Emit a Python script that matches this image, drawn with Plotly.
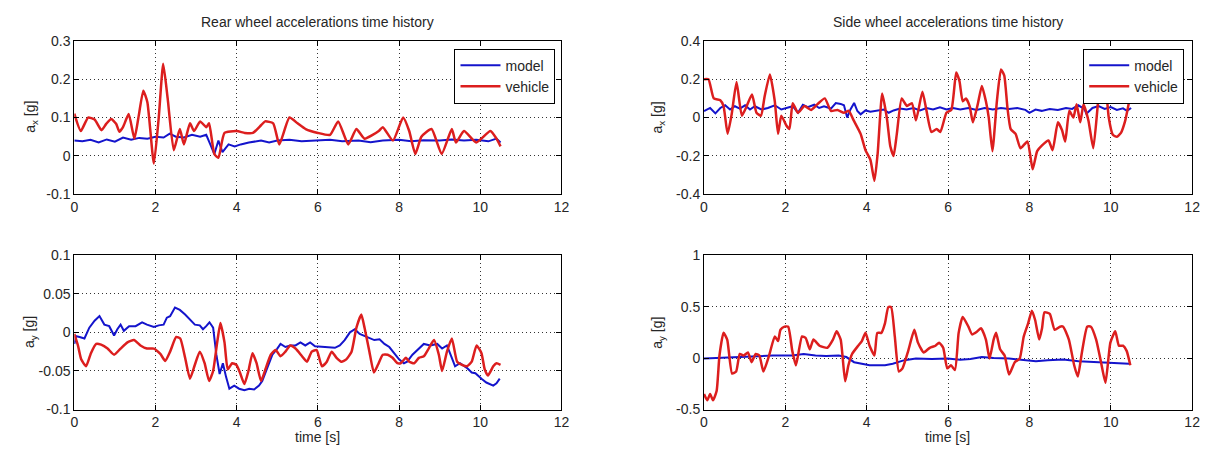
import plotly.graph_objects as go

# ---------------- data ----------------
# Rear wheel, longitudinal acceleration a_x [g]
rear_ax_model_t = [0, 0.2, 0.4, 0.6, 0.8, 1.0, 1.2, 1.4, 1.6, 1.8, 2.0, 2.2, 2.35, 2.5, 2.7,
                   2.9, 3.1, 3.25, 3.35, 3.45, 3.55, 3.65, 3.8, 3.95, 4.1, 4.3, 4.6, 4.8, 5.0,
                   5.3, 5.6, 6.0, 6.3, 6.6, 7.0, 7.3, 7.6, 8.0, 8.3, 8.6, 9.0, 9.3, 9.6, 9.9,
                   10.2, 10.4, 10.5]
rear_ax_model = [0.04, 0.038, 0.042, 0.035, 0.043, 0.037, 0.048, 0.042, 0.047, 0.045, 0.05,
                 0.048, 0.058, 0.05, 0.048, 0.055, 0.05, 0.055, 0.03, 0.005, 0.04, 0.01, 0.03,
                 0.025, 0.03, 0.035, 0.04, 0.035, 0.04, 0.042, 0.038, 0.04, 0.042, 0.038, 0.04,
                 0.036, 0.04, 0.042, 0.038, 0.041, 0.04, 0.043, 0.04, 0.042, 0.038, 0.045, 0.035]
rear_ax_vehicle_t = [0, 0.16, 0.34, 0.5, 0.67, 0.79, 0.91, 1.03, 1.11, 1.2, 1.34, 1.48, 1.58,
                     1.7, 1.8, 1.96, 2.08, 2.19, 2.3, 2.45, 2.6, 2.7, 2.85, 2.95, 3.1, 3.25,
                     3.32, 3.45, 3.55, 3.7, 4.0, 4.2, 4.4, 4.6, 4.7, 4.9, 5.05, 5.3, 5.5, 5.7,
                     6.0, 6.3, 6.5, 6.75, 6.95, 7.15, 7.5, 7.6, 7.85, 8.1, 8.25, 8.4, 8.55, 8.8,
                     9.05, 9.3, 9.4, 9.6, 9.9, 10.25, 10.4, 10.5]
rear_ax_vehicle = [0.11, 0.065, 0.1, 0.095, 0.067, 0.084, 0.096, 0.084, 0.063, 0.075, 0.109,
                   0.045, 0.1, 0.17, 0.14, -0.02, 0.1, 0.24, 0.15, 0.015, 0.07, 0.03, 0.085,
                   0.065, 0.09, 0.075, 0.085, 0.005, -0.005, 0.06, 0.065, 0.06, 0.06, 0.08,
                   0.09, 0.085, 0.03, 0.1, 0.085, 0.07, 0.06, 0.055, 0.09, 0.03, 0.07, 0.045,
                   0.065, 0.075, 0.04, 0.1, 0.065, 0.005, 0.05, 0.07, 0.005, 0.07, 0.035, 0.065,
                   0.035, 0.065, 0.045, 0.025]

# Side wheel, longitudinal acceleration a_x [g]
side_ax_model_t = [0, 0.15, 0.28, 0.4, 0.52, 0.64, 0.76, 0.88, 1.01, 1.13, 1.25, 1.41, 1.57,
                   1.74, 1.9, 2.06, 2.18, 2.31, 2.43, 2.55, 2.71, 2.83, 2.95, 3.12, 3.24, 3.36,
                   3.44, 3.52, 3.6, 3.69, 3.77, 3.85, 3.97, 4.09, 4.25, 4.42, 4.54, 4.66, 4.82,
                   4.98, 5.15, 5.31, 5.47, 5.63, 5.8, 5.96, 6.12, 6.3, 6.5, 6.7, 6.9, 7.1, 7.3,
                   7.5, 7.7, 7.9, 8.0, 8.15, 8.3, 8.5, 8.7, 8.9, 9.05, 9.2, 9.35, 9.4, 9.55,
                   9.7, 9.85, 10.0, 10.15, 10.3, 10.4, 10.5]
side_ax_model = [0.034, 0.05, 0.022, 0.05, 0.064, 0.042, 0.059, 0.047, 0.064, 0.042, 0.059,
                 0.042, 0.05, 0.064, 0.042, 0.05, 0.059, 0.025, 0.067, 0.054, 0.067, 0.05,
                 0.059, 0.047, 0.076, 0.071, 0.064, 0.0, 0.042, 0.076, 0.034, 0.017, 0.037,
                 0.03, 0.037, 0.042, 0.025, 0.037, 0.047, 0.042, 0.05, 0.037, 0.05, 0.042,
                 0.054, 0.042, 0.05, 0.042, 0.05, 0.04, 0.05, 0.042, 0.05, 0.045, 0.05, 0.04,
                 0.025, 0.042, 0.035, 0.045, 0.04, 0.05, 0.045, 0.064, 0.045, 0.02, 0.05, 0.06,
                 0.045, 0.055, 0.04, 0.048, 0.035, 0.05]
side_ax_vehicle_t = [0, 0.11, 0.24, 0.4, 0.48, 0.58, 0.68, 0.8, 0.93, 1.05, 1.18, 1.29, 1.4,
                     1.49, 1.62, 1.74, 1.82, 1.9, 2.02, 2.1, 2.18, 2.31, 2.47, 2.63, 2.79, 2.97,
                     3.12, 3.28, 3.44, 3.56, 3.68, 3.85, 3.97, 4.09, 4.19, 4.27, 4.38, 4.5,
                     4.58, 4.66, 4.74, 4.86, 4.99, 5.11, 5.21, 5.37, 5.47, 5.59, 5.72, 5.81,
                     5.96, 6.08, 6.2, 6.28, 6.36, 6.44, 6.53, 6.61, 6.73, 6.83, 6.93, 7.0, 7.09,
                     7.2, 7.3, 7.38, 7.46, 7.54, 7.66, 7.78, 7.95, 8.08, 8.19, 8.31, 8.47, 8.57,
                     8.7, 8.8, 8.88, 8.98, 9.08, 9.16, 9.25, 9.33, 9.45, 9.57, 9.69, 9.78, 9.88,
                     9.95, 10.05, 10.15, 10.25, 10.35, 10.42, 10.5]
side_ax_vehicle = [0.2, 0.2, 0.1, 0.09, 0.06, -0.085, 0.017, 0.185, 0.01, 0.06, 0.12, 0.025,
                   0.01, 0.11, 0.225, 0.085, -0.085, 0.01, -0.04, -0.06, 0.075, 0.025, 0.06,
                   0.04, 0.07, 0.1, 0.035, 0.04, 0.025, 0.035, -0.015, -0.085, -0.17, -0.22,
                   -0.33, -0.185, 0.125, -0.01, -0.15, -0.2, -0.085, 0.1, 0.06, 0.075, -0.015,
                   0.135, 0.035, -0.075, -0.06, -0.075, 0.025, 0.04, 0.235, 0.19, 0.085, 0.1,
                   0.06, -0.025, 0.07, 0.165, 0.085, 0.0, -0.175, 0.085, 0.25, 0.22, 0.05,
                   -0.06, -0.085, -0.16, -0.125, -0.27, -0.175, -0.145, -0.12, -0.17, -0.025,
                   -0.065, -0.125, 0.035, 0.0, 0.07, -0.025, 0.07, -0.015, -0.16, 0.085, 0.22,
                   0.15, 0.0, -0.09, -0.1, -0.08, -0.02, 0.05, 0.14]

# Rear wheel, lateral acceleration a_y [g]
rear_ay_model_t = [0, 0.05, 0.13, 0.25, 0.37, 0.5, 0.62, 0.74, 0.86, 0.98, 1.06, 1.14, 1.22,
                   1.35, 1.51, 1.67, 1.79, 1.96, 2.08, 2.2, 2.28, 2.36, 2.48, 2.6, 2.73, 2.85,
                   2.97, 3.09, 3.17, 3.25, 3.33, 3.42, 3.5, 3.58, 3.66, 3.74, 3.82, 3.94, 4.06,
                   4.19, 4.31, 4.43, 4.55, 4.63, 4.76, 4.88, 5.0, 5.08, 5.2, 5.32, 5.45, 5.57,
                   5.69, 5.81, 5.93, 6.1, 6.26, 6.42, 6.54, 6.66, 6.79, 6.91, 7.03, 7.15, 7.27,
                   7.39, 7.52, 7.64, 7.76, 7.88, 8.0, 8.12, 8.2, 8.33, 8.45, 8.61, 8.77, 8.94,
                   9.06, 9.18, 9.3, 9.38, 9.5, 9.67, 9.79, 9.88, 10.03, 10.15, 10.32, 10.4, 10.48]
rear_ay_model = [-0.015, -0.005, -0.006, -0.008, 0.006, 0.015, 0.021, 0.01, 0.008, -0.004,
                 0.004, 0.01, 0.002, 0.008, 0.008, 0.013, 0.01, 0.007, 0.009, 0.01, 0.019,
                 0.021, 0.032, 0.029, 0.023, 0.017, 0.01, 0.009, 0.004, 0.008, 0.013, 0.006,
                 -0.029, -0.054, -0.04, -0.058, -0.073, -0.069, -0.073, -0.075, -0.073, -0.074,
                 -0.069, -0.063, -0.046, -0.029, -0.021, -0.015, -0.019, -0.017, -0.017,
                 -0.013, -0.017, -0.013, -0.018, -0.019, -0.019, -0.02, -0.017, -0.01, 0.0,
                 0.004, -0.002, -0.005, -0.008, -0.01, -0.009, -0.015, -0.019, -0.027, -0.035,
                 -0.04, -0.038, -0.029, -0.023, -0.015, -0.017, -0.015, -0.021, -0.017, -0.033,
                 -0.044, -0.04, -0.046, -0.052, -0.053, -0.06, -0.065, -0.069, -0.066, -0.06]
rear_ay_vehicle_t = [0, 0.09, 0.17, 0.29, 0.41, 0.54, 0.66, 0.82, 0.98, 1.14, 1.31, 1.47, 1.63,
                     1.79, 1.96, 2.12, 2.24, 2.36, 2.51, 2.61, 2.73, 2.85, 2.97, 3.09, 3.21,
                     3.32, 3.42, 3.52, 3.6, 3.7, 3.78, 3.89, 3.99, 4.08, 4.19, 4.29, 4.39, 4.49,
                     4.6, 4.72, 4.84, 4.96, 5.08, 5.2, 5.32, 5.45, 5.61, 5.73, 5.85, 5.97, 6.1,
                     6.22, 6.34, 6.46, 6.58, 6.7, 6.83, 6.95, 7.07, 7.15, 7.27, 7.38, 7.48, 7.6,
                     7.72, 7.84, 7.96, 8.04, 8.17, 8.25, 8.37, 8.49, 8.61, 8.73, 8.86, 8.98,
                     9.06, 9.18, 9.3, 9.43, 9.55, 9.67, 9.79, 9.91, 10.03, 10.11, 10.19, 10.32,
                     10.4, 10.5]
rear_ay_vehicle = [-0.002, -0.017, -0.035, -0.044, -0.027, -0.015, -0.016, -0.021, -0.029,
                   -0.021, -0.013, -0.01, -0.017, -0.021, -0.021, -0.028, -0.037, -0.025,
                   -0.006, -0.008, -0.033, -0.06, -0.042, -0.025, -0.04, -0.063, -0.05, -0.013,
                   0.012, -0.013, -0.048, -0.04, -0.042, -0.052, -0.067, -0.05, -0.027, -0.04,
                   -0.063, -0.046, -0.029, -0.023, -0.031, -0.025, -0.017, -0.021, -0.031,
                   -0.038, -0.025, -0.023, -0.044, -0.038, -0.025, -0.033, -0.038, -0.035,
                   -0.025, 0.006, 0.023, 0.006, -0.025, -0.052, -0.042, -0.029, -0.029, -0.033,
                   -0.04, -0.04, -0.033, -0.038, -0.04, -0.033, -0.031, -0.021, -0.01, -0.029,
                   -0.05, -0.025, -0.008, -0.038, -0.042, -0.044, -0.038, -0.017, -0.027,
                   -0.048, -0.056, -0.044, -0.04, -0.042]

# Side wheel, lateral acceleration a_y [g]
side_ay_model_t = [0, 0.27, 0.55, 0.9, 1.22, 1.69, 2.17, 2.45, 2.74, 3.0, 3.31, 3.5, 3.69, 3.88,
                   4.07, 4.45, 4.64, 4.93, 5.21, 5.6, 5.98, 6.3, 6.55, 6.83, 7.12, 7.5, 7.88,
                   8.16, 8.45, 8.83, 9.21, 9.59, 9.97, 10.2, 10.45]
side_ay_model = [-0.005, 0.0, 0.01, 0.015, 0.02, 0.025, 0.025, 0.04, 0.025, 0.02, 0.025, 0.01,
                 -0.04, -0.055, -0.07, -0.07, -0.055, -0.02, -0.005, -0.01, -0.005, -0.015,
                 -0.01, 0.01, 0.0, -0.005, -0.02, -0.03, -0.02, -0.015, -0.03, -0.04, -0.045,
                 -0.05, -0.055]
side_ay_vehicle_t = [0, 0.08, 0.15, 0.22, 0.31, 0.38, 0.48, 0.57, 0.69, 0.79, 0.88, 0.98, 1.08,
                     1.17, 1.27, 1.36, 1.46, 1.6, 1.74, 1.82, 1.88, 1.98, 2.07, 2.17, 2.26,
                     2.41, 2.5, 2.6, 2.69, 2.84, 3.03, 3.17, 3.26, 3.36, 3.47, 3.55, 3.64, 3.79,
                     3.88, 3.97, 4.07, 4.19, 4.26, 4.36, 4.45, 4.53, 4.6, 4.69, 4.79, 4.88, 5.02,
                     5.17, 5.26, 5.4, 5.55, 5.69, 5.78, 5.88, 5.98, 6.07, 6.17, 6.26, 6.36, 6.5,
                     6.59, 6.72, 6.81, 6.93, 7.02, 7.12, 7.18, 7.28, 7.39, 7.5, 7.64, 7.76, 7.86,
                     7.97, 8.06, 8.14, 8.24, 8.31, 8.37, 8.5, 8.62, 8.75, 8.83, 8.97, 9.1, 9.19,
                     9.29, 9.42, 9.51, 9.64, 9.76, 9.87, 9.99, 10.11, 10.2, 10.3, 10.39, 10.48]
side_ay_vehicle = [-0.35, -0.41, -0.35, -0.41, -0.32, 0.025, 0.245, 0.18, -0.15, -0.13, 0.04,
                   0.025, 0.055, -0.04, 0.04, 0.025, -0.13, 0.025, 0.21, 0.165, 0.275, 0.305,
                   0.305, 0.07, -0.07, 0.21, 0.195, 0.085, 0.18, 0.12, 0.1, 0.18, 0.26, 0.18,
                   -0.225, -0.07, 0.04, 0.12, 0.165, 0.245, 0.12, 0.025, 0.245, 0.245, 0.34,
                   0.495, 0.495, 0.21, -0.13, -0.1, 0.07, 0.275, 0.15, 0.055, 0.1, 0.12, 0.15,
                   0.1, -0.1, -0.07, -0.115, 0.245, 0.4, 0.305, 0.23, 0.26, 0.29, 0.18, -0.005,
                   0.18, 0.245, 0.085, 0.025, -0.16, -0.04, -0.005, 0.21, 0.34, 0.46, 0.37,
                   0.18, 0.29, 0.445, 0.43, 0.275, 0.305, 0.305, 0.18, -0.07, -0.18, 0.055,
                   0.305, 0.305, 0.18, -0.04, -0.24, 0.15, 0.26, 0.12, 0.12, 0.07, -0.07]

# axis tick labels
x_ticks = [0, 2, 4, 6, 8, 10, 12]
rear_ax_ticks = [-0.1, 0, 0.1, 0.2, 0.3]
rear_ax_ticktext = ["-0.1", "0", "0.1", "0.2", "0.3"]
side_ax_ticks = [-0.4, -0.2, 0, 0.2, 0.4]
side_ax_ticktext = ["-0.4", "-0.2", "0", "0.2", "0.4"]
rear_ay_ticks = [-0.1, -0.05, 0, 0.05, 0.1]
rear_ay_ticktext = ["-0.1", "-0.05", "0", "0.05", "0.1"]
side_ay_ticks = [-0.5, 0, 0.5, 1]
side_ay_ticktext = ["-0.5", "0", "0.5", "1"]

# ---------------- figure ----------------
W, H = 1214, 461
FONT = "Liberation Sans, Arial, sans-serif"
TXT = "#262626"
BLUE = "#1414cc"
RED = "#dc1e1e"


def px_x(p):
    return p / W


def px_y(p):
    return 1 - p / H


LEFT_X = [px_x(71), px_x(563)]
RIGHT_X = [px_x(707), px_x(1200)]
TOP_Y = [px_y(193), px_y(34)]
BOT_Y = [px_y(416), px_y(256)]

fig = go.Figure()

series = [
    ("x", "y", "legend", rear_ax_model_t, rear_ax_model, rear_ax_vehicle_t, rear_ax_vehicle, True),
    ("x2", "y2", "legend2", side_ax_model_t, side_ax_model, side_ax_vehicle_t, side_ax_vehicle, True),
    ("x3", "y3", "legend", rear_ay_model_t, rear_ay_model, rear_ay_vehicle_t, rear_ay_vehicle, False),
    ("x4", "y4", "legend2", side_ay_model_t, side_ay_model, side_ay_vehicle_t, side_ay_vehicle, False),
]
for xa, ya, lg, mt, mv, vt, vv, show in series:
    fig.add_trace(go.Scatter(x=mt, y=mv, mode="lines", name="model", xaxis=xa, yaxis=ya,
                             legend=lg, showlegend=show,
                             line=dict(color=BLUE, width=2)))
    fig.add_trace(go.Scatter(x=vt, y=vv, mode="lines", name="vehicle", xaxis=xa, yaxis=ya,
                             legend=lg, showlegend=show,
                             line=dict(color=RED, width=2.5, shape="spline", smoothing=0.5)))

axis_style = dict(
    showline=True, linecolor="black", linewidth=1, mirror="ticks",
    ticks="inside", ticklen=5, tickcolor="black", tickwidth=1,
    showgrid=True, gridcolor="#333333", gridwidth=1, griddash="1px,3px",
    zeroline=False, tickfont=dict(family=FONT, size=14, color=TXT),
)

x_common = dict(axis_style, range=[0, 12], tickvals=x_ticks, ticktext=[str(v) for v in x_ticks])

legend_style = dict(xanchor="right", yanchor="top", bgcolor="white", bordercolor="black",
                    borderwidth=1, font=dict(family=FONT, size=14, color=TXT),
                    tracegroupgap=0, itemwidth=40)

fig.update_layout(
    width=W, height=H,
    margin=dict(l=0, r=0, t=0, b=0),
    paper_bgcolor="white", plot_bgcolor="white",
    font=dict(family=FONT, size=14, color=TXT),
    xaxis=dict(x_common, domain=LEFT_X, anchor="y"),
    yaxis=dict(axis_style, domain=TOP_Y, anchor="x", range=[-0.1, 0.3],
               tickvals=rear_ax_ticks, ticktext=rear_ax_ticktext),
    xaxis2=dict(x_common, domain=RIGHT_X, anchor="y2"),
    yaxis2=dict(axis_style, domain=TOP_Y, anchor="x2", range=[-0.4, 0.4],
                tickvals=side_ax_ticks, ticktext=side_ax_ticktext),
    xaxis3=dict(x_common, domain=LEFT_X, anchor="y3"),
    yaxis3=dict(axis_style, domain=BOT_Y, anchor="x3", range=[-0.1, 0.1],
                tickvals=rear_ay_ticks, ticktext=rear_ay_ticktext),
    xaxis4=dict(x_common, domain=RIGHT_X, anchor="y4"),
    yaxis4=dict(axis_style, domain=BOT_Y, anchor="x4", range=[-0.5, 1],
                tickvals=side_ay_ticks, ticktext=side_ay_ticktext),
    legend=dict(legend_style, x=px_x(557), y=px_y(42)),
    legend2=dict(legend_style, x=px_x(1192), y=px_y(42)),
)

ann = []
for cx, title in [(317, "Rear wheel accelerations time history"),
                  (953, "Side wheel accelerations time history")]:
    ann.append(dict(text=title, x=px_x(cx), y=px_y(14), xref="paper", yref="paper",
                    xanchor="center", yanchor="middle", showarrow=False,
                    font=dict(family=FONT, size=14, color=TXT)))
    ann.append(dict(text="time [s]", x=px_x(cx), y=px_y(444), xref="paper", yref="paper",
                    xanchor="center", yanchor="middle", showarrow=False,
                    font=dict(family=FONT, size=14, color=TXT)))
for lx, cy, lab in [(27, 113, "a<sub>x</sub> [g]"), (27, 336, "a<sub>y</sub> [g]"),
                    (661, 113, "a<sub>x</sub> [g]"), (661, 336, "a<sub>y</sub> [g]")]:
    ann.append(dict(text=lab, x=px_x(lx), y=px_y(cy), xref="paper", yref="paper",
                    xanchor="center", yanchor="middle", textangle=-90, showarrow=False,
                    font=dict(family=FONT, size=14, color=TXT)))
fig.update_layout(annotations=ann)

fig.write_html("out.html")
